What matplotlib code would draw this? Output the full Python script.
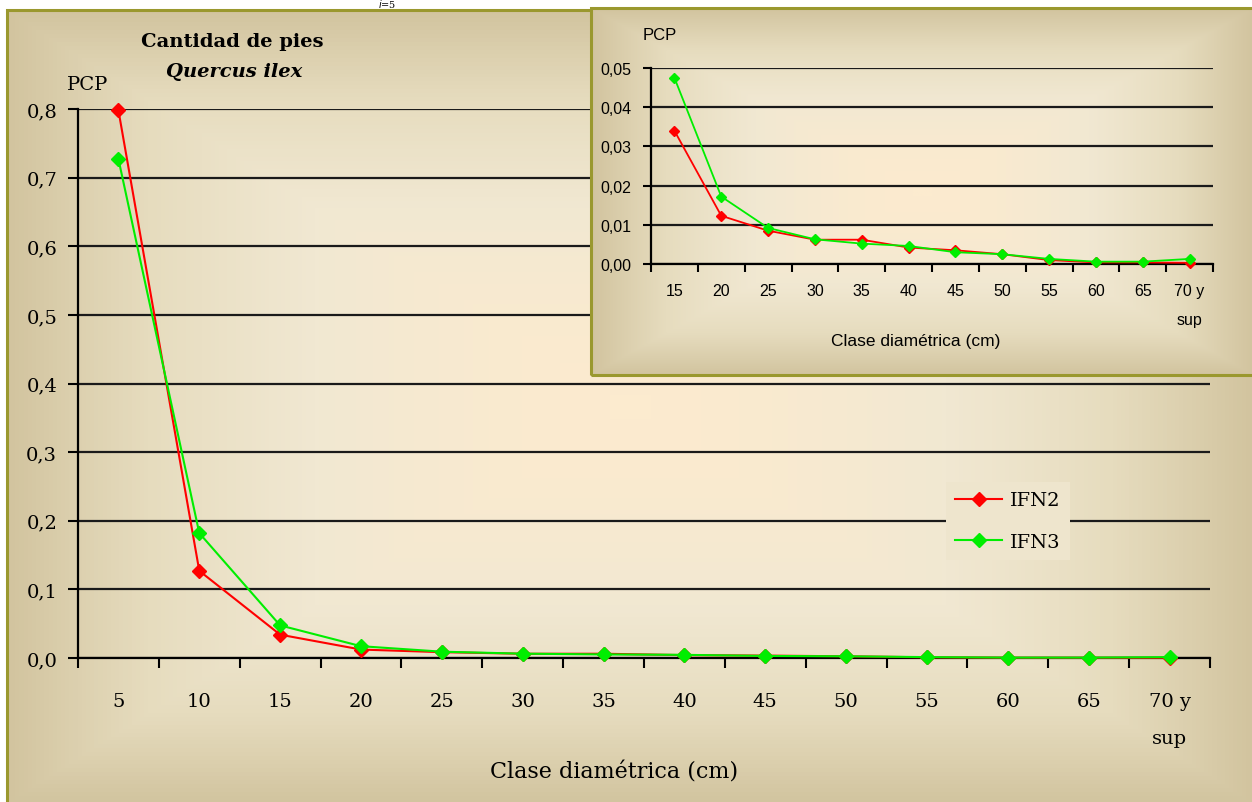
import numpy as np
import matplotlib
matplotlib.use("Agg")
import matplotlib.pyplot as plt
from matplotlib.colors import LinearSegmentedColormap
from matplotlib.patches import Rectangle

# datos
clases = ['5', '10', '15', '20', '25', '30', '35', '40', '45', '50', '55', '60', '65', '70 y\nsup']
ifn2 = [0.798, 0.127, 0.034, 0.0123, 0.0085, 0.0062, 0.0062, 0.0042, 0.0035, 0.0025, 0.0010, 0.0004, 0.0004, 0.0003]
ifn3 = [0.727, 0.182, 0.0475, 0.0172, 0.0092, 0.0063, 0.0052, 0.0046, 0.0030, 0.0025, 0.0013, 0.0006, 0.0006, 0.0013]
yticks_main = [0.0, 0.1, 0.2, 0.3, 0.4, 0.5, 0.6, 0.7, 0.8]
yticks_ins = [0.00, 0.01, 0.02, 0.03, 0.04, 0.05]

W, H = 1252, 803
SERIF = 'DejaVu Serif'
SANS = 'Liberation Sans'
EDGE = '#9a982e'

fondo = LinearSegmentedColormap.from_list('fondo', ['#fcebcf', '#f1e8d2', '#e6dcbe', '#d2c49f'])


def box(x0, y0, x1, y1):
    # caja con degradado desde el centro, coords en pixeles (origen arriba)
    ax = fig.add_axes([x0 / W, 1 - y1 / H, (x1 - x0) / W, (y1 - y0) / H])
    u = np.linspace(-1, 1, 300)
    v = np.linspace(-1, 1, 200)
    U, V = np.meshgrid(u, v)
    t = np.maximum(np.abs(U), np.abs(V)) ** 1.6
    ax.imshow(t, cmap=fondo, aspect='auto', extent=[0, 1, 0, 1], vmin=0, vmax=1)
    ax.set_xlim(0, 1)
    ax.set_ylim(0, 1)
    ax.axis('off')
    ax.add_patch(Rectangle((0, 0), 1, 1, fill=False, edgecolor=EDGE, lw=2.2,
                           transform=ax.transAxes, clip_on=False))
    return ax


def axes_px(x0, y0, x1, y1):
    ax = fig.add_axes([x0 / W, 1 - y1 / H, (x1 - x0) / W, (y1 - y0) / H])
    ax.patch.set_alpha(0)
    return ax


def style(ax, n, yt, fmt, font, fs, tl, pad):
    ax.set_xlim(-0.5, n - 0.5)
    ax.set_xticks(np.arange(n + 1) - 0.5)
    ax.set_xticklabels([])
    ax.set_yticks(yt)
    ax.set_yticklabels([fmt.format(v).replace('.', ',') for v in yt],
                       fontfamily=font, fontsize=fs)
    ax.set_ylim(yt[0], yt[-1])
    ax.tick_params(axis='both', direction='out', length=tl, width=1.5, color='black')
    ax.tick_params(axis='y', pad=pad)
    ax.grid(axis='y', color='#1a1a1a', lw=1.6)
    ax.set_axisbelow(True)
    for s in ['top', 'right']:
        ax.spines[s].set_visible(False)
    for s in ['left', 'bottom']:
        ax.spines[s].set_linewidth(1.6)
        ax.spines[s].set_zorder(1)


fig = plt.figure(figsize=(W / 100, H / 100), dpi=100)
fig.patch.set_facecolor('white')

# fragmento de texto de arriba
fig.text(378 / W, 1 - 8 / H, r'$i$=5', fontsize=7, fontfamily=SERIF, va='baseline')

# grafico principal
box(7, 11, W + 2, H + 2)
ax = axes_px(78, 110, 1210, 659)
style(ax, len(clases), yticks_main, '{:.1f}', SERIF, 14, 7, 8)
x = np.arange(len(clases))
l2, = ax.plot(x, ifn2, color='#ff0000', lw=1.5, marker='D', ms=7, label='IFN2', clip_on=False, zorder=3)
l3, = ax.plot(x, ifn3, color='#00ee00', lw=1.5, marker='D', ms=7, label='IFN3', clip_on=False, zorder=4)
for i, c in enumerate(clases):
    ax.text(i, -0.05, c, ha='center', va='top', fontfamily=SERIF, fontsize=14,
            linespacing=2.3, transform=ax.transData)
fig.text(88 / W, 1 - 85 / H, 'PCP', ha='center', va='center', fontfamily=SERIF, fontsize=14)
fig.text(614 / W, 1 - 773 / H, 'Clase diamétrica (cm)', ha='center', va='center',
         fontfamily=SERIF, fontsize=16)
fig.text(232 / W, 1 - 42 / H, 'Cantidad de pies', ha='center', va='center',
         fontfamily=SERIF, fontsize=14, fontweight='bold')
fig.text(234 / W, 1 - 72 / H, 'Quercus ilex', ha='center', va='center',
         fontfamily=SERIF, fontsize=14, fontweight='bold', style='italic')

leg = ax.legend(handles=[l2, l3], loc='center left', bbox_to_anchor=(936 / W, 1 - 522 / H),
                bbox_transform=fig.transFigure, frameon=True, facecolor='#eee5cd', edgecolor='none',
                framealpha=1, fancybox=False, handlelength=2.4, handletextpad=0.4,
                labelspacing=1.2, borderpad=0.5, prop={'family': SERIF, 'size': 14})

# grafico insertado
box(591, 9, W + 2, 376)
ins = axes_px(651, 69, 1213, 265)
ci = clases[2:]
xi = np.arange(len(ci))
style(ins, len(ci), yticks_ins, '{:.2f}', SANS, 11.5, 6, 8)
ins.plot(xi, ifn2[2:], color='#ff0000', lw=1.3, marker='D', ms=5.5, clip_on=False, zorder=3)
ins.plot(xi, ifn3[2:], color='#00ee00', lw=1.3, marker='D', ms=5.5, clip_on=False, zorder=4)
for i, c in enumerate(ci):
    ins.text(i, -0.0048, c, ha='center', va='top', fontfamily=SANS, fontsize=11.5,
             linespacing=2.2, transform=ins.transData)
fig.text(660 / W, 1 - 35 / H, 'PCP', ha='center', va='center', fontfamily=SANS, fontsize=12)
fig.text(916 / W, 1 - 342 / H, 'Clase diamétrica (cm)', ha='center', va='center',
         fontfamily=SANS, fontsize=12.5)

fig.savefig('out.png', dpi=100)
